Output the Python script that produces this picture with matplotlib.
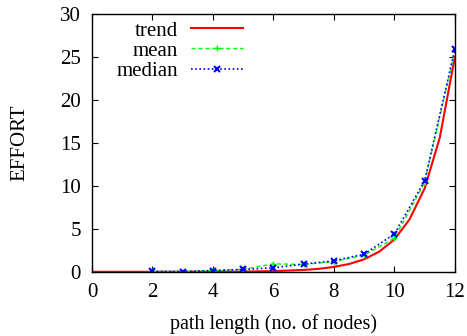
import matplotlib
matplotlib.use("Agg")
import matplotlib.pyplot as plt

plt.rcParams['font.family'] = ['Liberation Serif', 'DejaVu Serif']

# path length (no. of nodes)
nodes = [2, 3, 4, 5, 6, 7, 8, 9, 10, 11, 12]
mean_effort = [0.05, 0.03, 0.15, 0.3, 0.93, 0.86, 1.19, 1.94, 3.9, 10.4, 25.7]
median_effort = [0.05, 0.03, 0.15, 0.28, 0.47, 0.9, 1.28, 2.06, 4.4, 10.6, 25.9]

# fitted trend
trend_x = [0, 1, 2, 3, 4, 5, 6, 7, 7.5, 8, 8.5, 9, 9.5, 10, 10.5, 11, 11.5, 12]
trend_y = [0.0, 0.0, 0.0, 0.01, 0.01, 0.03, 0.08, 0.22, 0.35, 0.57, 0.91, 1.46, 2.35, 3.76, 6.1, 9.7, 15.6, 25.0]

fig = plt.figure(figsize=(4.67, 3.36), dpi=100)
ax = fig.add_axes([0.197, 0.191, 0.777, 0.767])

ax.plot(trend_x, trend_y, color='#ff0000', lw=1.5, label='trend')
ax.plot(nodes, mean_effort, color='#00ff00', lw=1, ls=(0, (3, 2)),
        marker='+', ms=5, mew=1, label='mean')
ax.plot(nodes, median_effort, color='#0000ff', lw=1.2, ls=(0, (1, 1.5)),
        marker='x', ms=4, mew=1.5, label='median')

ax.set_xlim(0, 12)
ax.set_ylim(0, 30)
ax.set_xticks(range(0, 13, 2))
ax.set_yticks(range(0, 31, 5))
ax.tick_params(direction='in', length=4, width=0.8, top=True, right=True,
               labelsize=15)
ax.tick_params(axis='x', pad=8)
ax.tick_params(axis='y', pad=8)
for s in ax.spines.values():
    s.set_linewidth(1)

ax.set_xlabel('path length (no. of nodes)', fontsize=14.5, labelpad=9)
ax.set_ylabel('EFFORT', fontsize=15, labelpad=22)

leg = ax.legend(loc='upper right', bbox_to_anchor=(243 / 467, 1 - 21 / 336),
                bbox_transform=fig.transFigure, frameon=False, markerfirst=False,
                fontsize=15, handlelength=2.5, handletextpad=0.6,
                labelspacing=0.03, borderpad=0, borderaxespad=0)

fig.savefig('out.png', dpi=100)
